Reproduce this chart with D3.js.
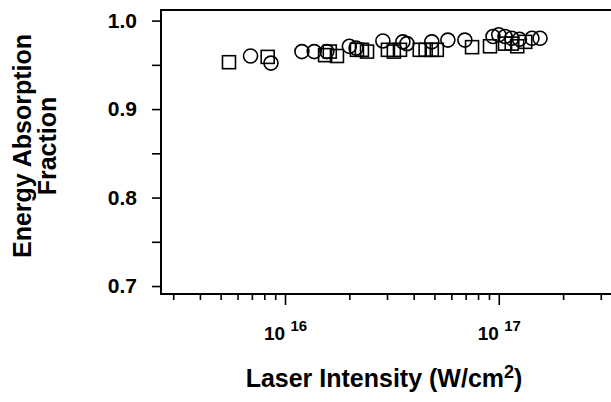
<!DOCTYPE html>
<html>
<head>
<meta charset="utf-8">
<script src="https://cdn.jsdelivr.net/npm/d3@7"></script>
<style>
  body { margin: 0; background: #fff; }
  svg { display: block; font-family: "Liberation Sans", Arial, sans-serif; }
</style>
</head>
<body>
<div class="chart"></div>
<script>
// data (intensity in W/cm2, absorption fraction)
var circleI = [6.9e15, 8.6e15, 1.2e16, 1.37e16, 1.57e16, 2.0e16, 2.15e16, 2.87e16, 3.56e16, 3.72e16,
               4.86e16, 5.78e16, 6.94e16, 9.4e16, 1.0e17, 1.07e17, 1.15e17, 1.25e17, 1.43e17, 1.56e17];
var circleF = [0.960, 0.952, 0.965, 0.965, 0.965, 0.971, 0.969, 0.977, 0.976, 0.974,
               0.976, 0.978, 0.978, 0.982, 0.984, 0.982, 0.980, 0.979, 0.980, 0.980];

var squareI = [5.47e15, 8.3e15, 1.54e16, 1.62e16, 1.75e16, 2.17e16, 2.29e16, 2.42e16, 3.03e16, 3.23e16,
               3.45e16, 4.27e16, 4.55e16, 4.86e16, 5.13e16, 7.5e16, 9.1e16, 1.07e17, 1.15e17, 1.22e17, 1.33e17];
var squareF = [0.953, 0.959, 0.961, 0.965, 0.960, 0.967, 0.967, 0.965, 0.967, 0.965,
               0.967, 0.967, 0.967, 0.967, 0.967, 0.970, 0.971, 0.974, 0.974, 0.971, 0.976];

var yTicks = [0.7, 0.8, 0.9, 1.0];
var yMinor = [0.75, 0.85, 0.95];
var xMajor = [1e16, 1e17];
var xMinor = [3e15, 4e15, 5e15, 6e15, 7e15, 8e15, 9e15,
              2e16, 3e16, 4e16, 5e16, 6e16, 7e16, 8e16, 9e16, 2e17, 3e17];

var width = 611, height = 402;
var m = { left: 161, right: 611, top: 10, bottom: 294 };

var svg = d3.select(".chart")
    .append("svg")
    .attr("width", width)
    .attr("height", height);

var x = d3.scaleLog()
    .domain([2.63e15, 3.35e17])
    .range([m.left, m.right]);

var y = d3.scaleLinear()
    .domain([0.691, 1.012])
    .range([m.bottom, m.top]);

// x axis: minor ticks, then major ticks
svg.append("g")
    .attr("transform", "translate(0," + m.bottom + ")")
    .call(d3.axisBottom(x).tickValues(xMinor).tickSize(6).tickFormat(""))
    .call(g => g.select(".domain").remove());

svg.append("g")
    .attr("transform", "translate(0," + m.bottom + ")")
    .call(d3.axisBottom(x).tickValues(xMajor).tickSize(11).tickFormat(""))
    .call(g => g.select(".domain").remove());

// x tick labels with superscript exponents
var xl = svg.selectAll(".xlab")
    .data(xMajor)
    .enter()
    .append("text")
    .attr("class", "xlab")
    .attr("x", function (d) { return x(d) - 21; })
    .attr("y", 340)
    .style("font-weight", "bold")
    .style("font-size", "19px");
xl.append("tspan").text("10 ");
xl.append("tspan")
    .attr("dy", -9)
    .style("font-size", "15px")
    .text(function (d) { return Math.round(Math.log10(d)); });

// y axis
svg.append("g")
    .attr("transform", "translate(" + m.left + ",0)")
    .call(d3.axisLeft(y).tickValues(yMinor).tickSize(9).tickFormat(""))
    .call(g => g.select(".domain").remove());

svg.append("g")
    .attr("class", "yaxis")
    .attr("transform", "translate(" + m.left + ",0)")
    .call(d3.axisLeft(y).tickValues(yTicks).tickSize(9).tickPadding(15).tickFormat(d3.format(".1f")))
    .call(g => g.select(".domain").remove());

svg.selectAll(".tick line").attr("stroke", "#000").attr("stroke-width", 1.6);
svg.selectAll(".yaxis text")
    .style("font-family", "Liberation Sans, Arial, sans-serif")
    .style("font-weight", "bold")
    .style("font-size", "21px")
    .attr("fill", "#000");

// frame: top, left, bottom
svg.append("path")
    .attr("d", "M" + m.right + "," + m.top + "H" + m.left + "V" + m.bottom + "H" + m.right)
    .attr("fill", "none")
    .attr("stroke", "#000")
    .attr("stroke-width", 2);

// markers
var circles = circleI.map(function (v, i) { return { i: v, f: circleF[i] }; });
var squares = squareI.map(function (v, i) { return { i: v, f: squareF[i] }; });

svg.selectAll("circle.pt")
    .data(circles)
    .enter()
    .append("circle")
    .attr("class", "pt")
    .attr("cx", function (d) { return x(d.i); })
    .attr("cy", function (d) { return y(d.f); })
    .attr("r", 7)
    .attr("fill", "none")
    .attr("stroke", "#000")
    .attr("stroke-width", 1.6);

var s = 13;
svg.selectAll("rect.pt")
    .data(squares)
    .enter()
    .append("rect")
    .attr("class", "pt")
    .attr("x", function (d) { return x(d.i) - s / 2; })
    .attr("y", function (d) { return y(d.f) - s / 2; })
    .attr("width", s)
    .attr("height", s)
    .attr("fill", "none")
    .attr("stroke", "#000")
    .attr("stroke-width", 1.6);

// axis titles
var yt = svg.append("text")
    .attr("transform", "translate(31,146) rotate(-90)")
    .attr("text-anchor", "middle")
    .style("font-weight", "bold")
    .style("font-size", "25px");
yt.append("tspan").attr("x", 0).attr("y", 0).text("Energy Absorption");
yt.append("tspan").attr("x", 0).attr("y", 25).text("Fraction");

var xt = svg.append("text")
    .attr("x", 384)
    .attr("y", 387)
    .attr("text-anchor", "middle")
    .style("font-weight", "bold")
    .style("font-size", "25px")
    .text("Laser Intensity (W/cm");
xt.append("tspan").attr("dy", -9).style("font-size", "18px").text("2");
xt.append("tspan").attr("dy", 9).text(")");
</script>
</body>
</html>
